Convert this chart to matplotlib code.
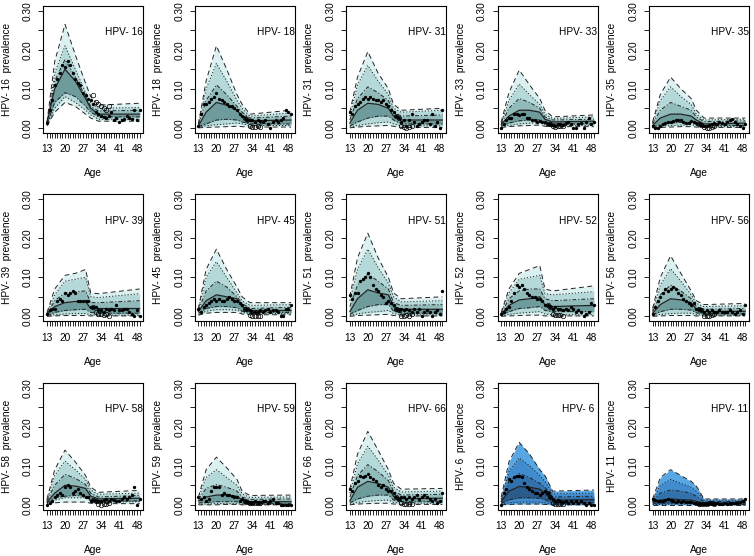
import matplotlib.pyplot as plt
import numpy as np

plt.rcParams['font.family'] = ['Liberation Sans', 'DejaVu Sans']

# HPV types, one panel each (row by row)
hpv_types = ['16', '18', '31', '33', '35',
             '39', '45', '51', '52', '56',
             '58', '59', '66', '6', '11']

knot_ages = [13, 16, 20, 24, 28, 30, 33, 49]

upper95 = [
    [1.5, 17, 26.5, 18.7, 11.4, 8, 5.8, 6.3],
    [1, 12, 21, 15, 8.5, 6, 3.5, 4.5],
    [4, 13, 19.5, 14, 10, 6, 4.5, 5],
    [1.5, 9, 14.8, 11, 7.5, 4.5, 2.8, 3.3],
    [1.5, 8.5, 13, 10, 7.5, 4.5, 2.5, 2.5],
    [1, 7, 10.5, 11, 12, 6, 5.8, 7],
    [2, 12, 17.2, 12, 7.5, 5, 3.5, 3.5],
    [5, 15, 21.3, 15, 10, 6, 4.5, 5],
    [1, 7, 11, 12, 13, 7, 6.5, 7.8],
    [2, 10, 15.5, 11, 6.5, 4, 3, 3.3],
    [1.5, 9, 14, 11, 7.5, 4.5, 3.2, 3.7],
    [2, 9, 12.2, 9.5, 6.5, 3.5, 2.4, 2.5],
    [4, 13, 18.8, 14, 9, 5.5, 4, 4.2],
    [2, 11, 16, 13, 9, 7.5, 3.5, 3.8],
    [1.5, 7, 9, 7.5, 6, 4.8, 1.5, 1.5],
]
upper80 = [
    [1.5, 14, 21, 15, 9, 6.5, 5, 5.2],
    [1, 10, 16.5, 12, 7, 5, 3, 3.8],
    [3, 11, 16, 12, 8.5, 5, 4, 4.5],
    [1.2, 7, 11.2, 8.5, 6, 3.5, 2.4, 2.8],
    [1.2, 7, 10.5, 8, 6, 3.5, 2, 2.2],
    [0.8, 5.5, 9, 9.5, 10, 5, 4.8, 5.8],
    [1.8, 10, 14, 10, 6, 4, 2.8, 3],
    [4, 12, 17.2, 12.5, 8.5, 5, 3.7, 4],
    [0.8, 6, 9.5, 10, 10.5, 5.8, 5.5, 6.3],
    [1.5, 8, 12.2, 9, 5.5, 3.3, 2.5, 2.7],
    [1.2, 7.5, 11.2, 9, 6.5, 3.8, 2.7, 3],
    [1.8, 7, 9, 7, 5, 2.8, 1.9, 2],
    [3, 10.5, 15, 11.5, 7.5, 4.5, 3.3, 3.5],
    [1.5, 8.5, 12, 10, 7.5, 6, 2.8, 3],
    [1.2, 5, 6.5, 5.5, 4.5, 3.5, 1.2, 1.2],
]
upper50 = [
    [1.2, 12, 17.5, 13, 8, 5.5, 4.3, 4.5],
    [0.8, 7, 11, 8.5, 5.5, 4, 2.5, 3],
    [2, 7.5, 10.5, 9, 7, 4, 3, 3.3],
    [1, 5, 7.5, 6.5, 5, 2.8, 2, 2.2],
    [1, 4.5, 6.5, 5.5, 4.5, 2.8, 1.6, 1.8],
    [0.6, 4, 6, 6.3, 6.5, 3.5, 3.5, 4],
    [1.5, 6.5, 9, 7.5, 5, 3.3, 2, 2.3],
    [2.5, 8, 10.8, 9, 7, 3.5, 2.8, 3],
    [0.6, 4.5, 6.5, 7, 7, 4.5, 4, 4.5],
    [1.2, 5.5, 8, 6.5, 4.5, 2.5, 1.8, 2],
    [1, 5, 7.8, 6.8, 5.2, 3, 2, 2.4],
    [1.4, 4.2, 5.2, 4.5, 3.5, 2, 1.4, 1.5],
    [2, 7.5, 10.3, 8.5, 6.2, 3.5, 2.5, 2.7],
    [1.2, 6, 8, 7, 5.5, 4.5, 2, 2.2],
    [1, 3, 3.8, 3.5, 3, 2.2, 0.8, 0.9],
]
median = [
    [1.2, 10, 15, 12, 7.5, 5, 3.5, 3.5],
    [0.5, 4, 6.5, 5.8, 4.5, 3, 1.8, 2],
    [1.2, 4.5, 6.3, 6, 5, 3, 2, 2],
    [0.8, 3, 4.5, 4.5, 4, 2.2, 1.5, 1.7],
    [0.6, 2.5, 3.5, 3.5, 3, 2, 1, 1.2],
    [0.4, 2.5, 3.5, 3.8, 3.8, 2, 2, 2],
    [1.2, 4, 5.5, 5, 4.5, 2.5, 1.5, 1.5],
    [1.2, 4.5, 6.8, 6, 5.5, 2.5, 1.8, 1.8],
    [0.5, 2.8, 4.2, 4.5, 5, 3, 2.5, 2.8],
    [0.8, 3, 4.5, 4.2, 3.5, 1.8, 1.2, 1.3],
    [0.7, 3, 5, 4.8, 4.2, 2.2, 1.5, 1.7],
    [1, 2, 2.5, 2.5, 2.2, 1.2, 0.8, 0.8],
    [1, 4.5, 6, 5.5, 4.5, 2.2, 1.6, 1.7],
    [0.8, 3.5, 4.7, 4.5, 4, 3, 1.2, 1.3],
    [0.7, 1.2, 1.5, 1.3, 1.2, 0.9, 0.4, 0.5],
]
lower50 = [
    [1, 6.5, 9, 8, 5.5, 4, 2.8, 2.8],
    [0.3, 1, 2, 2.2, 2, 1.5, 1, 1],
    [0.5, 1.5, 2.5, 3, 3, 2, 1, 1],
    [0.5, 1.2, 1.8, 2, 2, 1.2, 1, 1],
    [0.3, 0.8, 1.2, 1.4, 1.4, 1, 0.6, 0.6],
    [0.2, 1, 1.5, 1.7, 1.8, 1, 0.8, 0.8],
    [0.8, 2, 2.5, 2.5, 2.2, 1.3, 1, 1],
    [0.5, 1.5, 2.5, 3, 3, 1.3, 0.8, 0.8],
    [0.3, 1.2, 2, 2.2, 2.5, 1.5, 1.2, 1.2],
    [0.4, 1.2, 1.8, 1.8, 1.6, 0.9, 0.6, 0.6],
    [0.5, 1.8, 2.2, 2.4, 2.2, 1.2, 0.9, 1],
    [0.5, 0.6, 0.8, 0.8, 0.8, 0.5, 0.3, 0.3],
    [0.5, 1.5, 2.2, 2.5, 2.5, 1.2, 0.8, 0.8],
    [0.4, 1.3, 1.8, 1.8, 1.7, 1.3, 0.5, 0.5],
    [0.4, 0.4, 0.5, 0.5, 0.5, 0.3, 0.1, 0.1],
]
lower80 = [
    [0.8, 5, 8, 6.5, 4.5, 3.3, 2.2, 2.2],
    [0.2, 0.5, 0.8, 1, 1.2, 1, 0.6, 0.6],
    [0.2, 0.6, 1, 1.3, 1.5, 1, 0.5, 0.5],
    [0.3, 0.6, 1, 1.2, 1.3, 0.8, 0.6, 0.6],
    [0.1, 0.4, 0.6, 0.7, 0.8, 0.6, 0.3, 0.3],
    [0.1, 0.4, 0.6, 0.7, 0.7, 0.4, 0.3, 0.3],
    [0.5, 1.3, 1.7, 1.7, 1.6, 1, 0.7, 0.7],
    [0.2, 0.6, 1, 1.2, 1.5, 0.7, 0.4, 0.4],
    [0.1, 0.5, 0.8, 1, 1.2, 0.6, 0.4, 0.4],
    [0.2, 0.5, 0.7, 0.8, 0.8, 0.4, 0.3, 0.3],
    [0.3, 1.2, 1.8, 1.8, 1.8, 1, 0.7, 0.8],
    [0.2, 0.2, 0.3, 0.3, 0.3, 0.2, 0.1, 0.1],
    [0.2, 0.6, 0.9, 1.1, 1.2, 0.6, 0.4, 0.4],
    [0.2, 0.5, 0.7, 0.7, 0.7, 0.5, 0.2, 0.2],
    [0.1, 0.1, 0.2, 0.2, 0.2, 0.1, 0, 0],
]
lower95 = [
    [0.5, 4, 6.5, 5.5, 3.5, 2.5, 1.7, 1.7],
    [0, 0.1, 0.2, 0.3, 0.4, 0.3, 0.2, 0.2],
    [0, 0.2, 0.4, 0.5, 0.6, 0.4, 0.1, 0.1],
    [0.1, 0.3, 0.5, 0.6, 0.7, 0.4, 0.3, 0.3],
    [0, 0.1, 0.2, 0.3, 0.3, 0.2, 0.1, 0.1],
    [0, 0.1, 0.2, 0.2, 0.2, 0.1, 0.1, 0.1],
    [0.3, 0.8, 1, 1, 1, 0.6, 0.4, 0.4],
    [0, 0.2, 0.3, 0.4, 0.5, 0.2, 0.1, 0.1],
    [0, 0.1, 0.2, 0.3, 0.3, 0.1, 0.1, 0.1],
    [0, 0.1, 0.2, 0.2, 0.2, 0.1, 0.1, 0.1],
    [0.1, 0.5, 0.7, 0.7, 0.7, 0.4, 0.3, 0.3],
    [0, 0, 0, 0.1, 0.1, 0, 0, 0],
    [0, 0.2, 0.3, 0.4, 0.4, 0.2, 0.1, 0.1],
    [0, 0.1, 0.2, 0.2, 0.2, 0.1, 0, 0],
    [0, 0, 0, 0, 0, 0, 0, 0],
]

# observed prevalence (percent) at ages 13..49
ages = list(range(13, 50))
observed = [
    [1.2, 4.5, 7, 11, 12.5, 14, 16, 15.5, 17, 16, 14, 12.5, 11.5, 11, 9, 8.5, 7.5, 7, 6, 4, 3.5, 3, 2.8, 2.5, 3, 4, 2, 2.5, 1.5, 2, 2.2, 3, 2.5, 2.2, 4.5, 2, 4.5],
    [0.5, 3.5, 6, 6, 6.5, 7.5, 8, 9, 7.5, 7, 6.5, 6, 5.5, 5.5, 5, 4.5, 3.5, 3, 2.5, 2, 2, 2, 1.5, 2, 1.8, 1.5, 2, 1, 0, 1.5, 2, 1.5, 2, 2.5, 4.5, 4, 3.5],
    [4, 3.5, 5.5, 6, 6.5, 7.5, 8, 7.5, 8, 7.5, 7, 7, 6.5, 7, 6, 5.5, 4.5, 4, 3, 2.5, 1.5, 2, 0.5, 2, 3.5, 1.5, 0.5, 1, 1.5, 2, 2, 1, 3.5, 0.5, 1.5, 0, 4.5],
    [0, 1, 2, 2.5, 2.5, 3.5, 3.5, 3.2, 3.5, 3.6, 2.5, 2.5, 2, 2, 1.5, 1.8, 1.5, 1.5, 1, 1, 0.8, 0.5, 1, 1, 0.8, 1.2, 1.5, 1, 0, 0, 1, 1.2, 0, 1.5, 2.5, 1, 1.5],
    [0.5, 0, 0, 0.5, 1, 1.2, 1.5, 1.5, 1.8, 2, 2, 2, 1.5, 1.2, 1.2, 1.8, 1.5, 1.2, 1, 0.8, 0.5, 0.5, 0.8, 1, 1.2, 1, 1.5, 1.2, 1, 1.5, 2, 2.2, 1.5, 1, 0.5, 0, 1],
    [0.5, 1.5, 2, 2, 4, 4.5, 4, 6, 5.5, 6, 6.5, 6, 4, 4, 4, 4, 4, 2.5, 2.5, 2.5, 1.5, 1.5, 1, 2, 1.5, 2, 1.5, 3, 1.5, 1.5, 2, 2, 1, 0.5, 0, 1.5, 0],
    [2, 1, 2.5, 3, 3.5, 4, 4.5, 4, 4.5, 4, 4, 4.5, 5, 4.5, 4, 4, 3.5, 3, 2, 2, 1.5, 1, 1, 1, 1.5, 1, 1.5, 2, 1, 1.5, 1.5, 1, 0, 0, 2, 2, 3],
    [5.5, 4.5, 6, 6, 9, 9.5, 10, 11, 10, 8, 7, 6.5, 5.5, 5, 3.5, 4, 3.5, 3, 2, 1.5, 2, 1.5, 2, 1.5, 1, 2, 1, 2, 0, 1, 1.5, 1, 0, 1, 1.5, 0.5, 6.5],
    [0.5, 1, 2, 2.5, 4, 6, 8, 7.5, 8, 7, 6, 5.5, 5, 5, 4.5, 4.5, 4, 3, 3, 2.5, 2, 2.5, 2, 2, 1.5, 2, 1.5, 2.5, 2, 1, 1.5, 1, 0, 0.5, 1, 3.5, 3],
    [0.5, 2.5, 4, 5, 6, 7, 6.5, 7, 7.5, 7, 6, 5.5, 4.5, 4, 3.5, 3, 3.5, 2, 1.8, 1.5, 1.2, 1.5, 1, 1.5, 1, 1.2, 1.5, 1, 1, 1.2, 1.5, 1, 0.5, 1, 1.5, 0.5, 3],
    [0, 0.5, 1, 2, 2.5, 3, 2.5, 4.5, 5, 4.5, 3, 3.5, 4, 3, 2.5, 2, 2, 1, 1.2, 1, 1, 1, 1.2, 1.5, 1, 1.5, 1.2, 1, 1, 1.5, 2, 1.5, 2, 2.5, 4.5, 0, 1.5],
    [2, 1.5, 2, 1, 1.5, 3.5, 4.5, 4.5, 4.5, 2.5, 3, 2.5, 2.5, 2.2, 2, 2, 1, 1.5, 1, 0.8, 0.5, 0.5, 1, 0.5, 0.8, 1, 1, 0.5, 1, 1.5, 0.5, 0.5, 0, 0, 0, 0, 0],
    [4, 3.5, 5.5, 6, 7.5, 7, 7.5, 8, 7, 6.5, 6, 5, 4.5, 5, 4, 3.5, 3.5, 3, 2, 1.5, 2, 2, 1.5, 2, 1.5, 2, 2.5, 1.5, 2, 2.5, 2, 1.5, 1, 1.5, 0.5, 1, 3],
    [0, 3, 4, 6.5, 6, 7, 7.5, 7.5, 7, 5.5, 4.5, 4, 3.5, 3, 3, 2.5, 3, 3.5, 3, 2, 1.5, 1, 1.2, 1, 0.8, 1, 0.5, 1, 0.5, 1, 0.5, 1, 0.5, 0, 0.5, 0, 0],
    [1.5, 1.2, 1, 1, 1, 1.2, 1.5, 1.2, 1, 0.8, 1, 0.8, 1, 0.8, 0.6, 0.6, 0.5, 0.4, 0.3, 0.2, 0.2, 0.2, 0.5, 0.4, 0.3, 0.5, 0.3, 0.2, 0.4, 0.3, 0.5, 0.5, 0.4, 0.5, 0.8, 1, 1.5],
]

# second data source (open circles), percent
open_ages = [31, 32, 33, 34, 35, 36, 37]
open_obs = [
    [8.5, 6.5, 6, 5.5, 5, 4.5, 5.5],
    [2.5, 2, 0.5, 0.3, 0.3, 0.5, 0.3],
    [3, 2.5, 0.5, 0.3, 0, 0.3, 0.5],
    [1, 1, 0.5, 0.3, 0.5, 0.5, 0.5],
    [1, 0.8, 0.3, 0, 0, 0.3, 0.5],
    [2.5, 1, 0.5, 0.5, 0.3, 0.5, 0],
    [2, 2, 0.3, 0.2, 0.2, 0.2, 0.2],
    [2, 1.5, 0, 0.2, 0.3, 0.2, 0.5],
    [3, 2.5, 0.5, 0.4, 0.3, 0.4, 0.2],
    [1.8, 1.5, 0, 0.2, 0.2, 0.3, 0.5],
    [1.2, 1, 0.2, 0, 0.3, 0.1, 0.5],
    [1, 0.8, 0.5, 0.5, 0.5, 0.5, 0.5],
    [2, 1.5, 0.5, 0.3, 0.2, 0.2, 0.3],
    [3, 2, 0.5, 0.3, 0.2, 0.3, 0.2],
    [0.3, 0.2, 0.2, 0.2, 0.5, 0.4, 0.3],
]

teal = ['#dbf0f0', '#b5d8d8', '#91bbbb', '#6e9b9b']
blue = ['#57a7e4', '#418cce', '#3271ab', '#2b5b8a']

W, H = 754, 556
fig = plt.figure(figsize=(W / 100, H / 100), dpi=100)

x_ticks = list(range(13, 50))
x_labels = [str(a) if (a - 13) % 7 == 0 else '' for a in x_ticks]
y_ticks = [0, 0.05, 0.10, 0.15, 0.20, 0.25, 0.30]
y_labels = ['0.00', '', '0.10', '', '0.20', '', '0.30']

fs = 7.3
for i, t in enumerate(hpv_types):
    r, c = divmod(i, 5)
    left = 43.3 + c * 151.4
    top = 6 + r * 188.5
    ax = fig.add_axes([left / W, 1 - (top + 126.5) / H, 100 / W, 126.5 / H])
    cols = blue if t in ('6', '11') else teal

    k = knot_ages
    hi1 = np.array(upper95[i]) / 100
    hi2 = np.array(upper80[i]) / 100
    hi3 = np.array(upper50[i]) / 100
    med = np.array(median[i]) / 100
    lo3 = np.array(lower50[i]) / 100
    lo2 = np.array(lower80[i]) / 100
    lo1 = np.array(lower95[i]) / 100

    ax.fill_between(k, lo1, hi1, color=cols[0], lw=0)
    ax.fill_between(k, lo2, hi2, color=cols[1], lw=0)
    ax.fill_between(k, lo3, hi3, color=cols[2], lw=0)
    ax.fill_between(k, lo3, med, color=cols[3], lw=0)

    for y in (hi1, lo1):
        ax.plot(k, y, color='#222222', lw=0.7, dashes=(5, 3.5))
    for y in (hi2, lo2):
        ax.plot(k, y, color='#222222', lw=0.7, dashes=(1.2, 2))
    for y in (hi3, lo3):
        ax.plot(k, y, color='#222222', lw=0.7, dashes=(4, 2, 1.2, 2))
    ax.plot(k, med, color='#222222', lw=0.9)

    ax.plot(ages, np.array(observed[i]) / 100, 'o', color='black', ms=2.4, mew=0)
    ax.plot(open_ages, np.array(open_obs[i]) / 100, 'o', mfc='none', mec='black',
            ms=3.2, mew=0.5)

    ax.text(43, 0.245, 'HPV- ' + t, ha='center', va='center', fontsize=fs)

    ax.set_xlim(11.56, 50.44)
    ax.set_ylim(-0.012, 0.312)
    ax.set_xticks(x_ticks)
    ax.set_xticklabels(x_labels)
    ax.set_yticks(y_ticks)
    ax.set_yticklabels(y_labels, rotation=90, va='center')
    ax.tick_params(direction='out', length=3.6, width=0.6, labelsize=fs,
                   color='black')
    ax.tick_params(axis='x', pad=5)
    ax.tick_params(axis='y', pad=4)
    for s in ax.spines.values():
        s.set_linewidth(0.8)
    ax.set_xlabel('Age', fontsize=fs, labelpad=10)
    ax.set_ylabel('HPV- ' + t + '  prevalence', fontsize=fs, labelpad=8)

fig.savefig('out.png', dpi=100)
